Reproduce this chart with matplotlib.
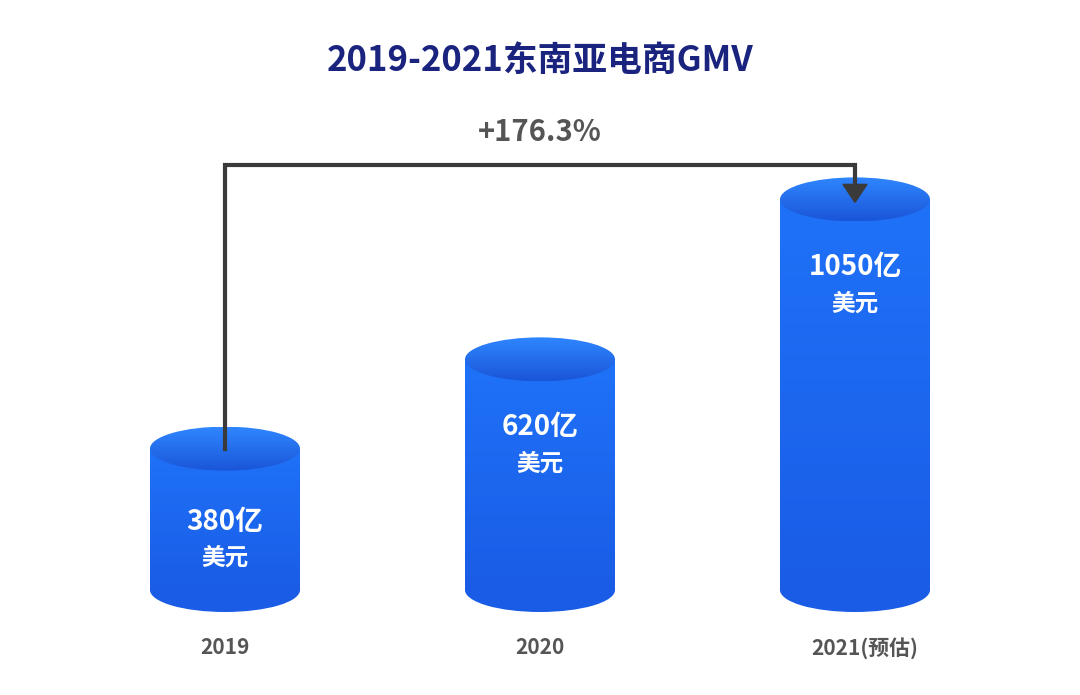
import matplotlib
matplotlib.use("Agg")
import matplotlib.pyplot as plt
import numpy as np
from matplotlib.patches import Ellipse, Rectangle
from matplotlib import font_manager

names = {f.name for f in font_manager.fontManager.ttflist}
cjk = [n for n in ["Noto Sans CJK SC", "Noto Sans CJK JP", "Noto Sans CJK TC", "Noto Sans CJK KR"] if n in names]
plt.rcParams['font.family'] = 'sans-serif'
plt.rcParams['font.sans-serif'] = cjk + ['DejaVu Sans']

years = ["2019", "2020", "2021(预估)"]
values = [380, 620, 1050]
labels = ["380亿\n美元", "620亿\n美元", "1050亿\n美元"]
growth = "+176.3%"
title = "2019-2021东南亚电商GMV"

W, H = 1080, 695
fig = plt.figure(figsize=(W/100, H/100), dpi=100)
ax = fig.add_axes([0, 0, 1, 1])
ax.set_xlim(0, W); ax.set_ylim(H, 0); ax.axis('off')

centers = [225, 540, 855]
half_w = 75
base = 590
scale = 0.372
eh = 22

tops = []
for cx, v, lab in zip(centers, values, labels):
    top = base - v * scale
    tops.append(top)
    grad = np.linspace(0, 1, 100).reshape(-1, 1)
    c1 = np.array([0x1f, 0x72, 0xf8]) / 255
    c2 = np.array([0x1a, 0x5c, 0xe6]) / 255
    img = c1 + (c2 - c1) * grad[..., None]
    body = Rectangle((cx - half_w, top), 2 * half_w, base - top, facecolor='none', edgecolor='none')
    ax.add_patch(body)
    ax.add_patch(Ellipse((cx, base), 2 * half_w, 2 * eh, facecolor='#1a5ce6', edgecolor='none', zorder=1))
    im = ax.imshow(img, extent=(cx - half_w, cx + half_w, base, top), aspect='auto', zorder=2)
    im.set_clip_path(body)
    tg = np.linspace(0, 1, 100).reshape(-1, 1)
    t1 = np.array([0x2f, 0x86, 0xff]) / 255
    t2 = np.array([0x1a, 0x55, 0xd8]) / 255
    timg = t1 + (t2 - t1) * tg[..., None]
    te = Ellipse((cx, top), 2 * half_w, 2 * eh, facecolor='none', edgecolor='none')
    ax.add_patch(te)
    tim = ax.imshow(timg, extent=(cx - half_w, cx + half_w, top + eh, top - eh), aspect='auto', zorder=3)
    tim.set_clip_path(te)
    ly = top + 68 if v > 500 else top + 73
    l1, l2 = lab.split("\n")
    ax.text(cx, ly, l1, color='white', fontsize=20, fontweight='bold', ha='center', va='center', zorder=5)
    ax.text(cx, ly + 36, l2, color='white', fontsize=17, fontweight='bold', ha='center', va='center', zorder=5)

for cx, y in zip(centers, years):
    ax.text(cx + (0 if y != years[-1] else 10), 648, y, color='#555555', fontsize=15,
            ha='center', va='center', fontweight='bold')

lc = '#3a3a3a'
ax.plot([centers[0], centers[0], centers[2], centers[2]],
        [tops[0], 165, 165, tops[2] - 10], color=lc, lw=3, zorder=6, solid_joinstyle='miter')
ax.add_patch(plt.Polygon([[centers[2] - 12, tops[2] - 15], [centers[2] + 12, tops[2] - 15],
                          [centers[2], tops[2] + 3]], color=lc, zorder=7))
ax.text(540, 132, growth, color='#555555', fontsize=21, fontweight='bold', ha='center', va='center')
ax.text(540, 60, title, color='#1a237e', fontsize=25, fontweight='bold', ha='center', va='center')

fig.savefig("out.png", dpi=100, facecolor='white')
